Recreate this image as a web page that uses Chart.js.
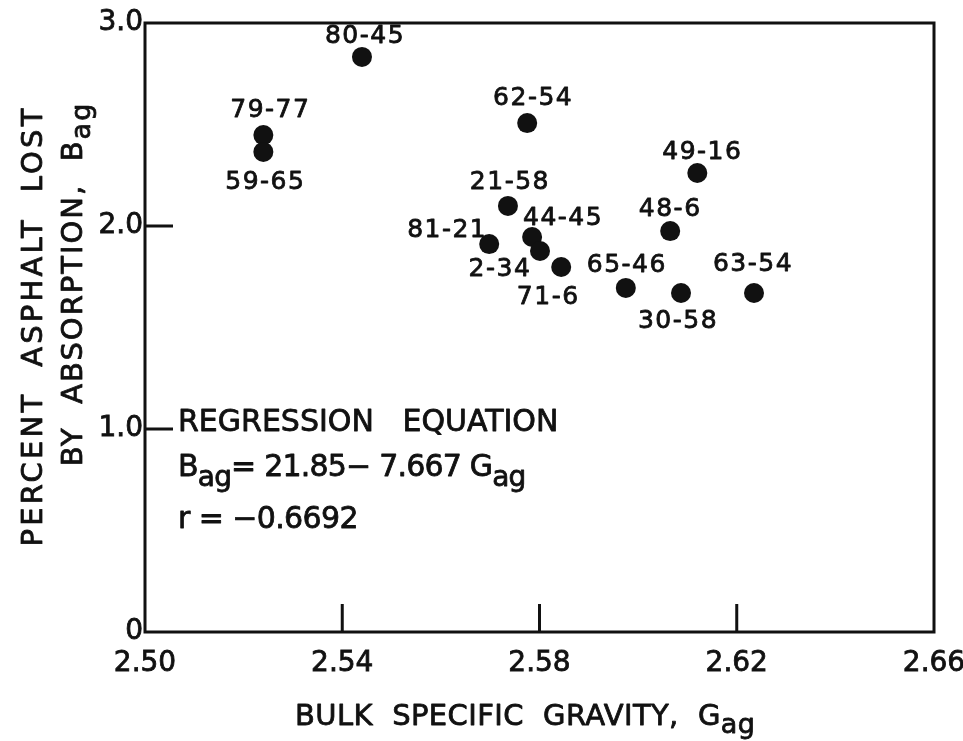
<!DOCTYPE html>
<html>
<head>
<meta charset="utf-8">
<script src="https://cdn.jsdelivr.net/npm/chart.js@4"></script>
<style>
  body { margin: 0; background: #fff; }
  canvas { display: block; }
</style>
</head>
<body>
<canvas id="chart" width="963" height="741"></canvas>
<script>
// Sample identifiers and readings (bulk specific gravity vs. % asphalt absorbed)
const sampleIds = ["80-45", "79-77", "59-65", "62-54", "49-16", "21-58", "48-6", "81-21", "44-45", "2-34", "71-6", "65-46", "30-58", "63-54"]
const gravity = [2.544, 2.524, 2.524, 2.5775, 2.612, 2.5736, 2.6065, 2.5698, 2.5785, 2.5801, 2.5844, 2.5975, 2.6087, 2.6235]
const absorption = [2.833, 2.448, 2.365, 2.507, 2.261, 2.099, 1.975, 1.911, 1.946, 1.877, 1.798, 1.695, 1.67, 1.67]

const xTicks = [2.5, 2.54, 2.58, 2.62, 2.66]
const xTickLabels = ["2.50", "2.54", "2.58", "2.62", "2.66"]
const yTicks = [0, 1, 2, 3]
const yTickLabels = ["0", "1.0", "2.0", "3.0"]

// where each sample label sits relative to its dot (px)
const labelOffsets = [
  [3, -20], [7, -25], [2, 31], [6, -25], [5, -21], [2, -23], [0, -22],
  [-42, -14], [31, -18], [-40, 19], [-13, 30], [1, -22], [-3, 29], [-1, -28],
]

const INK = "#111"
const FONT = "'DejaVu Sans', sans-serif"

// filled text with a thin outline so it reads as heavy as the old lettering
function ink(ctx, text, x, y) {
  ctx.fillText(text, x, y)
  ctx.strokeText(text, x, y)
}

// draws text with "ag" style subscripts: parts = [[text, isSub], ...]
function drawParts(ctx, x, y, parts, size, subSize, subDrop) {
  let cx = x
  parts.forEach(([text, sub]) => {
    ctx.font = `${sub ? subSize : size}px ${FONT}`
    ink(ctx, text, cx, sub ? y + subDrop : y)
    cx += ctx.measureText(text).width
  })
  return cx - x
}

function measureParts(ctx, parts, size, subSize) {
  let w = 0
  parts.forEach(([text, sub]) => {
    ctx.font = `${sub ? subSize : size}px ${FONT}`
    w += ctx.measureText(text).width
  })
  return w
}

const decorPlugin = {
  id: "decor",
  afterDraw(chart) {
    const ctx = chart.ctx
    const area = chart.chartArea
    const xs = chart.scales.x
    const ys = chart.scales.y
    ctx.save()
    ctx.strokeStyle = INK
    ctx.fillStyle = INK
    ctx.lineWidth = 3

    // frame
    ctx.strokeRect(area.left, area.top, area.right - area.left, area.bottom - area.top)

    // inward tick marks
    ctx.beginPath()
    xTicks.slice(1, -1).forEach((v) => {
      const px = xs.getPixelForValue(v)
      ctx.moveTo(px, area.bottom)
      ctx.lineTo(px, area.bottom - 28)
    })
    yTicks.slice(1, -1).forEach((v) => {
      const py = ys.getPixelForValue(v)
      ctx.moveTo(area.left, py)
      ctx.lineTo(area.left + 28, py)
    })
    ctx.stroke()

    ctx.lineWidth = 0.8
    ctx.lineJoin = "round"

    // sample labels
    const meta = chart.getDatasetMeta(0)
    ctx.font = `25px ${FONT}`
    ctx.letterSpacing = "1.5px"
    ctx.textAlign = "center"
    ctx.textBaseline = "middle"
    meta.data.forEach((pt, i) => {
      const [dx, dy] = labelOffsets[i]
      ink(ctx, sampleIds[i], pt.x + dx, pt.y + dy)
    })

    // x axis title
    ctx.textAlign = "left"
    ctx.textBaseline = "alphabetic"
    ctx.letterSpacing = "0.4px"
    const xTitle = [["BULK  SPECIFIC  GRAVITY,  G", false], ["ag", true]]
    drawParts(ctx, 295, 725, xTitle, 29, 27, 8)

    // y axis title (two lines, rotated)
    ctx.save()
    ctx.translate(42, 326)
    ctx.rotate(-Math.PI / 2)
    ctx.letterSpacing = "3.2px"
    ctx.font = `29px ${FONT}`
    ctx.textAlign = "center"
    ink(ctx, "PERCENT  ASPHALT  LOST", 0, 0)
    ctx.restore()

    ctx.save()
    ctx.translate(82, 284)
    ctx.rotate(-Math.PI / 2)
    ctx.letterSpacing = "2px"
    ctx.textAlign = "left"
    const yTitle2 = [["BY  ABSORPTION,  B", false], ["ag", true]]
    const w2 = measureParts(ctx, yTitle2, 29, 27)
    drawParts(ctx, -w2 / 2, 0, yTitle2, 29, 27, 8)
    ctx.restore()

    // regression note
    ctx.letterSpacing = "0px"
    ctx.font = `30px ${FONT}`
    ink(ctx, "REGRESSION   EQUATION", 178, 431)
    ctx.letterSpacing = "-0.8px"
    drawParts(ctx, 178, 476, [["B", false], ["ag", true], ["= 21.85− 7.667 G", false], ["ag", true]], 30, 28, 10)
    ctx.letterSpacing = "-0.6px"
    ctx.font = `30px ${FONT}`
    ink(ctx, "r = −0.6692", 178, 528)

    ctx.restore()
  },
}

const tickFont = { family: "'DejaVu Sans', sans-serif", size: 28 }

new Chart(document.getElementById("chart"), {
  type: "scatter",
  data: {
    datasets: [
      {
        label: "Samples",
        data: gravity.map((g, i) => ({ x: g, y: absorption[i] })),
        backgroundColor: INK,
        borderColor: INK,
        pointRadius: 10,
        pointHoverRadius: 10,
        borderWidth: 0,
      },
    ],
  },
  options: {
    responsive: false,
    animation: false,
    devicePixelRatio: 1,
    layout: { padding: { left: 0, top: 23, right: 29, bottom: 0 } },
    plugins: { legend: { display: false }, tooltip: { enabled: false } },
    scales: {
      x: {
        type: "linear",
        min: xTicks[0],
        max: xTicks[xTicks.length - 1],
        afterBuildTicks: (scale) => {
          scale.ticks = xTicks.map((v) => ({ value: v }))
        },
        afterFit: (scale) => {
          scale.height = 109
          scale.paddingLeft = 0
          scale.paddingRight = 0
        },
        grid: { display: false, drawTicks: false },
        border: { display: false },
        ticks: {
          autoSkip: false,
          maxRotation: 0,
          padding: 15,
          color: INK,
          textStrokeColor: INK,
          textStrokeWidth: 0.8,
          font: tickFont,
          callback: (v) => xTickLabels[xTicks.findIndex((t) => Math.abs(t - v) < 1e-6)],
        },
      },
      y: {
        type: "linear",
        min: yTicks[0],
        max: yTicks[yTicks.length - 1],
        afterBuildTicks: (scale) => {
          scale.ticks = yTicks.map((v) => ({ value: v }))
        },
        afterFit: (scale) => {
          scale.width = 145
          scale.paddingTop = 0
          scale.paddingBottom = 0
        },
        grid: { display: false, drawTicks: false },
        border: { display: false },
        ticks: {
          autoSkip: false,
          padding: 2,
          color: INK,
          textStrokeColor: INK,
          textStrokeWidth: 0.8,
          font: tickFont,
          callback: (v) => yTickLabels[yTicks.indexOf(v)],
        },
      },
    },
  },
  plugins: [decorPlugin],
})
</script>
</body>
</html>
